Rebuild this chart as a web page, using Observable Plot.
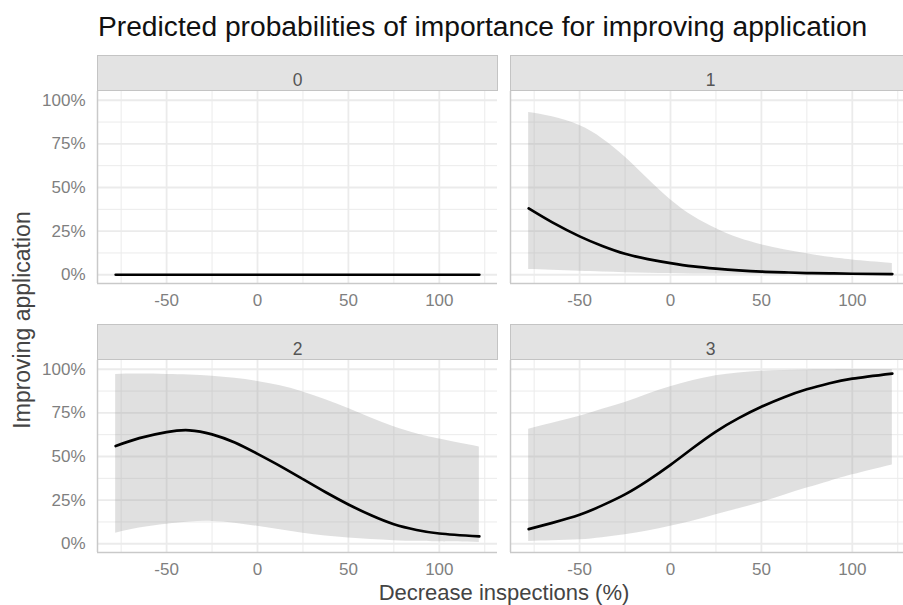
<!DOCTYPE html>
<html>
<head>
<meta charset="utf-8">
<script src="https://cdn.jsdelivr.net/npm/d3@7"></script>
<script src="https://cdn.jsdelivr.net/npm/@observablehq/plot@0.6"></script>
<style>
  html, body { margin: 0; padding: 0; background: white; overflow: hidden; }
  #wrap { position: relative; width: 903px; height: 605px; overflow: hidden; background: white;
          font-family: "Liberation Sans", Arial, Helvetica, sans-serif; }
  #title { position: absolute; left: 98px; top: 10px; font-size: 28.2px; color: #111; white-space: nowrap; line-height: 1.2; }
  #chart { position: absolute; left: 0; top: 54px; }
  #xtitle { position: absolute; left: 504px; top: 593px; transform: translate(-50%, -50%); font-size: 22px; color: #444; white-space: nowrap; line-height: 1; }
  #ytitle { position: absolute; left: 22px; top: 320px; transform: translate(-50%, -50%) rotate(-90deg); font-size: 23px; color: #444; white-space: nowrap; line-height: 1; }
</style>
</head>
<body>
<div id="wrap">
  <div id="chart"></div>
  <div id="title">Predicted probabilities of importance for improving application</div>
  <div id="xtitle">Decrease inspections (%)</div>
  <div id="ytitle">Improving application</div>
</div>
<script>
// ---- data ----
const facetLabels = ["0", "1", "2", "3"];
const xs = [-78, -65, -50, -37.5, -25, -12.5, 0, 12.5, 25, 37.5, 50, 62.5, 75, 87.5, 100, 122];

const prob0 = [0, 0, 0, 0, 0, 0, 0, 0, 0, 0, 0, 0, 0, 0, 0, 0];
const lo0   = [0, 0, 0, 0, 0, 0, 0, 0, 0, 0, 0, 0, 0, 0, 0, 0];
const hi0   = [0, 0, 0, 0, 0, 0, 0, 0, 0, 0, 0, 0, 0, 0, 0, 0];

const prob1 = [0.38, 0.30, 0.22, 0.165, 0.12, 0.09, 0.067, 0.048, 0.035, 0.025, 0.018, 0.014, 0.010, 0.008, 0.006, 0.004];
const lo1   = [0.03, 0.026, 0.02, 0.016, 0.012, 0.009, 0.007, 0.005, 0.004, 0.003, 0.002, 0.0015, 0.001, 0.0008, 0.0005, 0.0003];
const hi1   = [0.93, 0.905, 0.855, 0.78, 0.675, 0.55, 0.43, 0.335, 0.265, 0.21, 0.172, 0.143, 0.12, 0.10, 0.085, 0.065];

const prob2 = [0.56, 0.605, 0.64, 0.65, 0.627, 0.58, 0.515, 0.445, 0.37, 0.295, 0.225, 0.163, 0.112, 0.079, 0.059, 0.042];
const lo2   = [0.06, 0.09, 0.112, 0.125, 0.128, 0.118, 0.10, 0.08, 0.06, 0.045, 0.033, 0.024, 0.018, 0.014, 0.011, 0.008];
const hi2   = [0.97, 0.972, 0.97, 0.967, 0.96, 0.948, 0.93, 0.905, 0.87, 0.825, 0.775, 0.72, 0.67, 0.63, 0.60, 0.555];

const prob3 = [0.084, 0.12, 0.166, 0.22, 0.283, 0.362, 0.452, 0.55, 0.643, 0.72, 0.785, 0.84, 0.885, 0.92, 0.946, 0.975];
const lo3   = [0.013, 0.017, 0.023, 0.035, 0.052, 0.073, 0.10, 0.13, 0.166, 0.20, 0.237, 0.278, 0.319, 0.357, 0.395, 0.452];
const hi3   = [0.656, 0.69, 0.73, 0.77, 0.81, 0.857, 0.90, 0.935, 0.962, 0.978, 0.988, 0.993, 0.996, 0.997, 0.998, 0.999];

const xMajor = [-50, 0, 50, 100];
const xMinor = [-75, -25, 25, 75, 125];
const yMajor = [0, 0.25, 0.5, 0.75, 1];
const yMinor = [0.125, 0.375, 0.625, 0.875];

// ---- build table ----
const probs = [prob0, prob1, prob2, prob3];
const los = [lo0, lo1, lo2, lo3];
const his = [hi0, hi1, hi2, hi3];
const rows = [];
facetLabels.forEach((lab, k) => {
  xs.forEach((x, i) => {
    rows.push({facet: lab, col: k % 2, row: Math.floor(k / 2), x, p: probs[k][i], lo: los[k][i], hi: his[k][i]});
  });
});
const strips = facetLabels.map((lab, k) => ({label: lab, col: k % 2, row: Math.floor(k / 2)}));

const xDomain = [-88, 132];
const yDomain = [-0.05, 1.05];
const stripH = 36;
const cellH = 229;
const gridColor = "#ebebeb";
const axisLine = "#c9c9c9";
const tickColor = "#7f7f7f";

const chart = Plot.plot({
  width: 911,
  height: 551,
  marginLeft: 97,
  marginRight: 0.5,
  marginTop: 0,
  marginBottom: 52.2,
  style: {maxWidth: "none", background: "transparent", fontFamily: "'Liberation Sans', Arial, sans-serif", overflow: "visible"},
  x: {domain: xDomain},
  y: {domain: yDomain, insetTop: stripH},
  fx: {axis: null, domain: [0, 1], paddingInner: 0.0303, paddingOuter: 0},
  fy: {axis: null, domain: [0, 1], paddingInner: 0.1512, paddingOuter: 0},
  marks: [
    Plot.gridX({ticks: xMinor, y1: yDomain[0], y2: yDomain[1], stroke: gridColor, strokeOpacity: 1, strokeWidth: 1}),
    Plot.gridY({ticks: yMinor, stroke: gridColor, strokeOpacity: 1, strokeWidth: 1}),
    Plot.gridX({ticks: xMajor, y1: yDomain[0], y2: yDomain[1], stroke: gridColor, strokeOpacity: 1, strokeWidth: 1.8}),
    Plot.gridY({ticks: yMajor, stroke: gridColor, strokeOpacity: 1, strokeWidth: 1.8}),
    Plot.areaY(rows, {fx: "col", fy: "row", x: "x", y1: "lo", y2: "hi", z: "facet",
      fill: "#999999", fillOpacity: 0.3, curve: "natural"}),
    Plot.ruleX([xDomain[0]], {y1: yDomain[0], y2: yDomain[1], stroke: axisLine, strokeWidth: 1.5}),
    Plot.ruleY([yDomain[0]], {stroke: axisLine, strokeWidth: 1.5}),
    Plot.lineY(rows, {fx: "col", fy: "row", x: "x", y: "p", z: "facet",
      stroke: "black", strokeWidth: 2.7, curve: "natural"}),
    Plot.frame({fill: "#e3e3e3", stroke: "#c4c4c4", strokeWidth: 1, insetBottom: cellH - stripH}),
    Plot.text(strips, {fx: "col", fy: "row", text: "label", frameAnchor: "top", dy: stripH / 2,
      fill: "#555555", fontSize: 17.5}),
    Plot.axisX({ticks: xMajor, tickSize: 0, tickPadding: 10, tickFormat: d => String(d),
      fontSize: 17, color: tickColor, label: null, facetAnchor: null}),
    Plot.axisY({ticks: yMajor, tickSize: 0, tickPadding: 12, tickFormat: d => Math.round(d * 100) + "%",
      fontSize: 17, color: tickColor, label: null, facetAnchor: "left"})
  ]
});
document.getElementById("chart").appendChild(chart);
</script>
</body>
</html>
